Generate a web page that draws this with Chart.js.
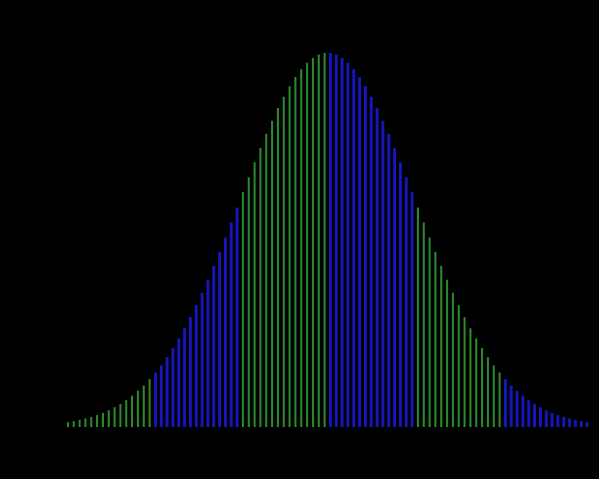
<!DOCTYPE html>
<html>
<head>
<meta charset="utf-8">
<script src="https://cdn.jsdelivr.net/npm/chart.js@4.4.1/dist/chart.umd.min.js"></script>
<style>
html,body{margin:0;padding:0;background:#000;}
#wrap{width:599px;height:479px;}
</style>
</head>
<body>
<div id="wrap"><canvas id="c" width="599" height="479"></canvas></div>
<script>
// z-positions (in standard deviations) of each bar
const categories = [
"-2.97","-2.90","-2.83","-2.77","-2.70","-2.63","-2.57","-2.50","-2.43","-2.37","-2.30","-2.23","-2.17","-2.10","-2.03",
"-1.97","-1.90","-1.83","-1.77","-1.70","-1.63","-1.57","-1.50","-1.43","-1.37","-1.30","-1.23","-1.17","-1.10","-1.03",
"-0.97","-0.90","-0.83","-0.77","-0.70","-0.63","-0.57","-0.50","-0.43","-0.37","-0.30","-0.23","-0.17","-0.10","-0.03",
"0.03","0.10","0.17","0.23","0.30","0.37","0.43","0.50","0.57","0.63","0.70","0.77","0.83","0.90","0.97",
"1.03","1.10","1.17","1.23","1.30","1.37","1.43","1.50","1.57","1.63","1.70","1.77","1.83","1.90","1.97",
"2.03","2.10","2.17","2.23","2.30","2.37","2.43","2.50","2.57","2.63","2.70","2.77","2.83","2.90","2.97"
];
// relative bar heights
const values = [
0.012,0.015,0.018,0.022,0.026,0.031,0.037,0.044,0.052,0.061,0.071,0.083,0.096,0.110,0.127,
0.145,0.164,0.186,0.210,0.236,0.263,0.293,0.325,0.358,0.393,0.430,0.467,0.506,0.546,0.586,
0.627,0.667,0.707,0.745,0.783,0.818,0.852,0.882,0.910,0.935,0.956,0.973,0.986,0.995,0.999,
0.999,0.995,0.986,0.973,0.956,0.935,0.910,0.882,0.852,0.818,0.783,0.745,0.707,0.667,0.627,
0.586,0.546,0.506,0.467,0.430,0.393,0.358,0.325,0.293,0.263,0.236,0.210,0.186,0.164,0.145,
0.127,0.110,0.096,0.083,0.071,0.061,0.052,0.044,0.037,0.031,0.026,0.022,0.018,0.015,0.012
];
// band (0 = green, 1 = blue) of each group of bars
const bandOf = [0,1,0,1,0,1];
const barsPerBand = 15;

const greenData = values.map((v,i)=> bandOf[Math.floor(i/barsPerBand)]===0 ? v : null);
const blueData  = values.map((v,i)=> bandOf[Math.floor(i/barsPerBand)]===1 ? v : null);

new Chart(document.getElementById('c'), {
  type: 'bar',
  data: {
    labels: categories,
    datasets: [
      {data: greenData, backgroundColor: '#2c8a2c', barThickness: 1.4, borderWidth: 0},
      {data: blueData, backgroundColor: '#1616c0', barThickness: 2.2, borderWidth: 0}
    ]
  },
  options: {
    responsive: false,
    animation: false,
    devicePixelRatio: 1,
    layout: {padding: {left: 65, right: 9, top: 53, bottom: 52}},
    plugins: {legend: {display: false}, tooltip: {enabled: false}},
    scales: {
      x: {display: false, stacked: true},
      y: {display: false, stacked: false, min: 0, max: 1}
    }
  }
});
</script>
</body>
</html>
